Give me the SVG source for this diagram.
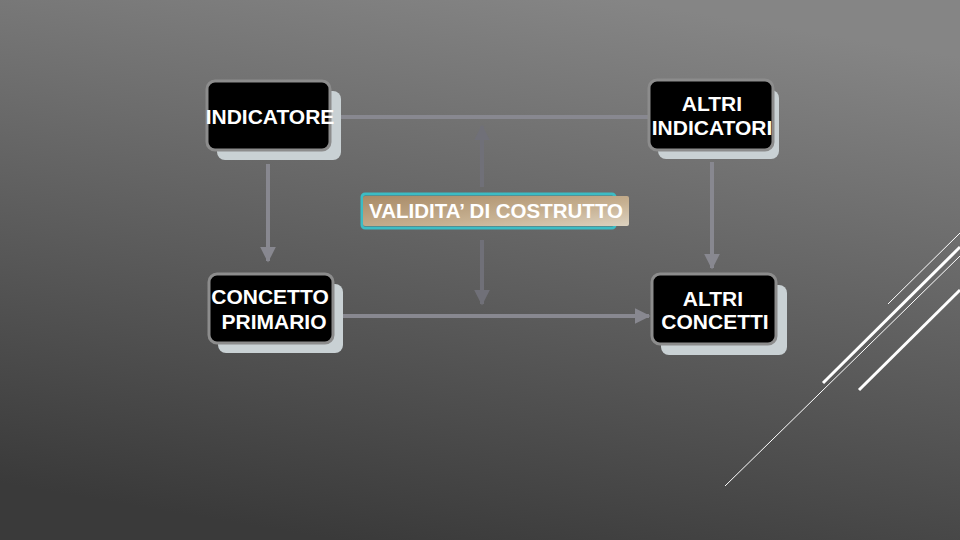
<svg xmlns="http://www.w3.org/2000/svg" width="960" height="540" viewBox="0 0 960 540">
<defs>
<linearGradient id="bg" x1="0.65" y1="0" x2="0.35" y2="1">
<stop offset="0" stop-color="#858585"/>
<stop offset="1" stop-color="#3a3a3a"/>
</linearGradient>
<linearGradient id="tan" x1="0" y1="0" x2="1" y2="1">
<stop offset="0" stop-color="#a88a66"/>
<stop offset="0.6" stop-color="#c6b091"/>
<stop offset="1" stop-color="#ddd2c0"/>
</linearGradient>
<marker id="ah2" viewBox="0 0 10 10" refX="9" refY="5" markerWidth="4" markerHeight="4" orient="auto" markerUnits="strokeWidth">
<path d="M0,0 L10,5 L0,10 z" fill="#888890"/>
</marker>
<marker id="ah3" viewBox="0 0 10 10" refX="9" refY="5" markerWidth="4" markerHeight="4" orient="auto" markerUnits="strokeWidth">
<path d="M0,0 L10,5 L0,10 z" fill="#707078"/>
</marker>
</defs>
<style>
.shadow{fill:#c9d1d4}
.box{fill:#000;stroke:#8c8c8c;stroke-width:3}
.lbl{font-family:"Liberation Sans",Arial,sans-serif;font-weight:bold;font-size:21px;fill:#fff;text-anchor:middle}
.conn{stroke:#888890;stroke-width:4;fill:none}
.conn2{stroke:#707078;stroke-width:4;fill:none}
.deco{stroke:#fff;fill:none}
</style>
<rect width="960" height="540" fill="url(#bg)"/>
<g id="decor">
<line class="deco" x1="888" y1="304" x2="960" y2="233" stroke-width="1"/>
<line class="deco" x1="823" y1="383" x2="960" y2="247" stroke-width="3"/>
<line class="deco" x1="725" y1="486" x2="960" y2="256" stroke-width="1"/>
<line class="deco" x1="859" y1="390" x2="960" y2="290" stroke-width="3"/>
</g>
<g id="connectors">
<line class="conn" x1="335" y1="117" x2="648" y2="117"/>
<line class="conn" x1="268" y1="164" x2="268" y2="261" marker-end="url(#ah2)"/>
<line class="conn" x1="712" y1="162" x2="712" y2="268" marker-end="url(#ah2)"/>
<line class="conn" x1="343" y1="316" x2="649" y2="316" marker-end="url(#ah2)"/>
<line class="conn2" x1="482" y1="187" x2="482" y2="126" marker-end="url(#ah3)"/>
<line class="conn2" x1="482" y1="240" x2="482" y2="304" marker-end="url(#ah3)"/>
</g>
<g id="n-indicatore">
<rect class="shadow" x="217" y="91" width="124" height="69" rx="8"/>
<rect class="box" x="207" y="81" width="123" height="69" rx="8"/>
<text class="lbl" x="270" y="124">INDICATORE</text>
</g>
<g id="n-altri-indicatori">
<rect class="shadow" x="658" y="90" width="121" height="69" rx="8"/>
<rect class="box" x="649" y="80" width="124" height="70" rx="8"/>
<text class="lbl" x="712" y="111">ALTRI</text>
<text class="lbl" x="712" y="135">INDICATORI</text>
</g>
<g id="n-concetto-primario">
<rect class="shadow" x="218" y="284" width="125" height="69" rx="8"/>
<rect class="box" x="209" y="274" width="124" height="69" rx="8"/>
<text class="lbl" x="270" y="304">CONCETTO</text>
<text class="lbl" x="274" y="329">PRIMARIO</text>
</g>
<g id="n-altri-concetti">
<rect class="shadow" x="661" y="285" width="126" height="70" rx="8"/>
<rect class="box" x="652" y="274" width="124" height="70" rx="8"/>
<text class="lbl" x="713" y="306">ALTRI</text>
<text class="lbl" x="715" y="329">CONCETTI</text>
</g>
<g id="n-validita">
<rect x="362" y="194" width="253" height="34" rx="3" fill="none" stroke="#3cbcc4" stroke-width="3"/>
<rect x="363" y="196" width="266" height="30" rx="2" fill="url(#tan)"/>
<text class="lbl" x="496" y="218" style="font-size:20.5px">VALIDITA’ DI COSTRUTTO</text>
</g>
</svg>
